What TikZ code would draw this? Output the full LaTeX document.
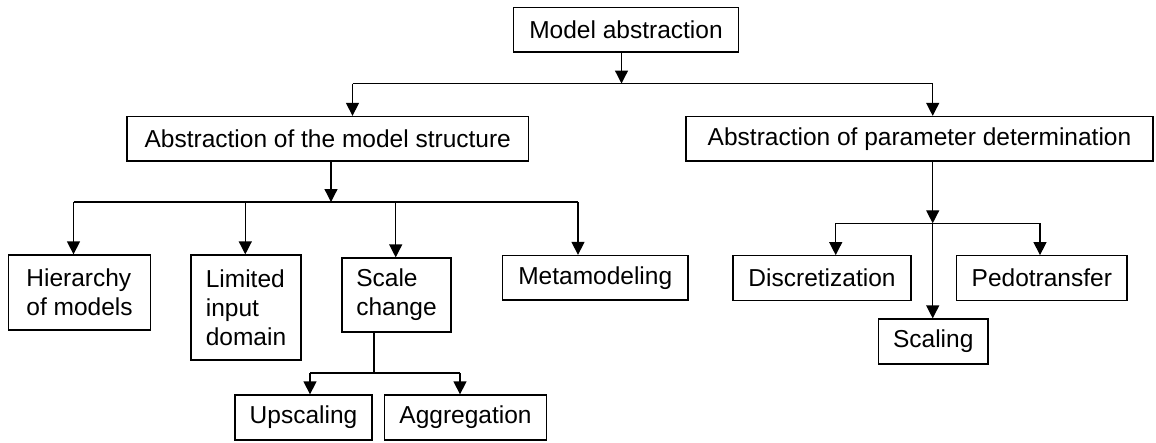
\documentclass[tikz,border=0pt]{standalone}
\usepackage{fontspec}
\setmainfont{Liberation Sans}
\usetikzlibrary{arrows.meta}
\begin{document}
\begin{tikzpicture}[x=1pt,y=-1pt,
  box/.style={draw,line width=1.3pt,inner sep=0pt,align=left,
    font=\fontsize{24.5}{28.8}\selectfont},
  arr/.style={line width=1.3pt,-{Triangle[width=13pt,length=13pt]}},
  ln/.style={line width=1.3pt}]
\useasboundingbox (0,0) rectangle (1156,442);
\node[box,minimum width=225pt,minimum height=44.5pt] (ma) at (626,29.75) {Model abstraction};
\node[box,minimum width=401.5pt,minimum height=44.5pt] (s) at (327.75,138.75) {Abstraction of the model structure};
\node[box,minimum width=467pt,minimum height=44.5pt] (p) at (919.5,138.75) {Abstraction of parameter determination};
\node[box,minimum width=142pt,minimum height=75pt] (h) at (79.5,292.5) {Hierarchy\\of models};
\node[box,minimum width=110pt,minimum height=105pt] (l) at (246,307.5) {Limited\\input\\domain};
\node[box,minimum width=109pt,minimum height=74pt] (sc) at (396.5,295) {Scale\\change};
\node[box,minimum width=185.5pt,minimum height=44.5pt] (mm) at (595.25,277.75) {Metamodeling};
\node[box,minimum width=137pt,minimum height=45pt] (up) at (303.5,417.5) {Upscaling};
\node[box,minimum width=162pt,minimum height=45pt] (ag) at (465.5,417.5) {Aggregation};
\node[box,minimum width=178pt,minimum height=44.5pt] (di) at (822,278) {Discretization};
\node[box,minimum width=170.5pt,minimum height=44.5pt] (pe) at (1041.8,278) {Pedotransfer};
\node[box,minimum width=109.5pt,minimum height=45pt] (sg) at (933.25,341.5) {Scaling};
% junctions
\coordinate (j0) at (621.5,83.5);
\coordinate (jL) at (352.5,83.5);
\coordinate (jR) at (932.7,83.5);
\coordinate (j1) at (331,202);
\coordinate (j1a) at (73.5,202);
\coordinate (j1b) at (245.3,202);
\coordinate (j1c) at (395.7,202);
\coordinate (j1d) at (578,202);
\coordinate (j2) at (374,373);
\coordinate (j2a) at (310,373);
\coordinate (j2b) at (460,373);
\coordinate (j3) at (932.7,223.3);
\coordinate (j3a) at (835.7,223.3);
\coordinate (j3b) at (1040,223.3);
% connectors
\draw[arr] (ma.south -| j0) -- (j0);
\draw[ln] (jL) -- (jR);
\draw[arr] (jL) -- (jL |- s.north);
\draw[arr] (jR) -- (jR |- p.north);
\draw[arr] (s.south -| j1) -- (j1);
\draw[ln] (j1a) -- (j1d);
\draw[arr] (j1a) -- (j1a |- h.north);
\draw[arr] (j1b) -- (j1b |- l.north);
\draw[arr] (j1c) -- (j1c |- sc.north);
\draw[arr] (j1d) -- (j1d |- mm.north);
\draw[ln] (sc.south -| j2) -- (j2);
\draw[ln] (j2a) -- (j2b);
\draw[arr] (j2a) -- (j2a |- up.north);
\draw[arr] (j2b) -- (j2b |- ag.north);
\draw[arr] (p.south -| j3) -- (j3);
\draw[ln] (j3a) -- (j3b);
\draw[arr] (j3a) -- (j3a |- di.north);
\draw[arr] (j3b) -- (j3b |- pe.north);
\draw[arr] (j3) -- (j3 |- sg.north);
\end{tikzpicture}
\end{document}
